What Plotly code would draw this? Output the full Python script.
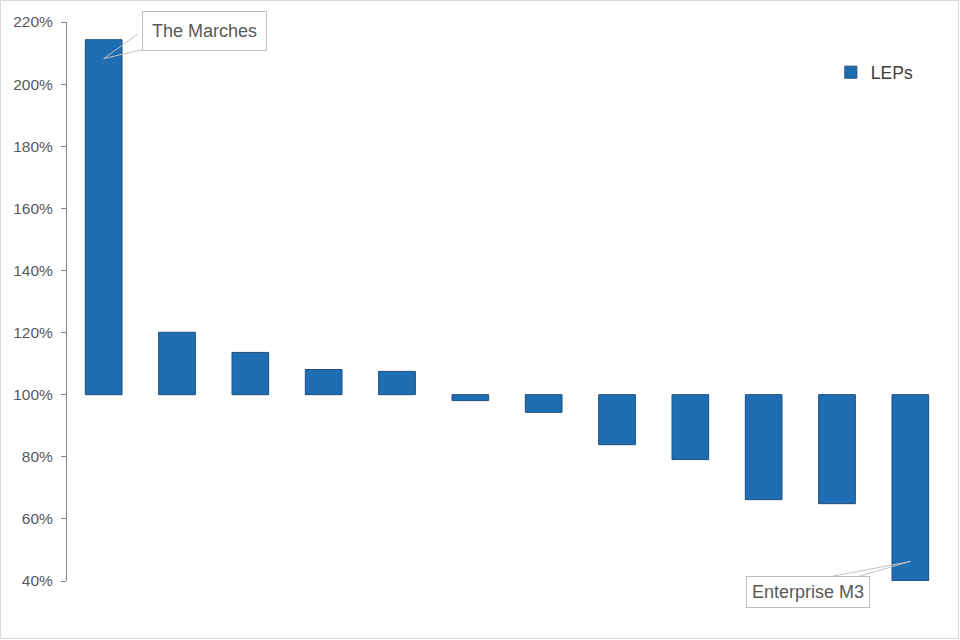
import plotly.graph_objects as go

categories = ["The Marches", "LEP 2", "LEP 3", "LEP 4", "LEP 5", "LEP 6",
              "LEP 7", "LEP 8", "LEP 9", "LEP 10", "LEP 11", "Enterprise M3"]
values = [214.3, 120.1, 113.6, 108.1, 107.5, 98.1, 94.3, 83.9, 79.1, 66.2, 64.9, 40.0]
baseline = 100
series_name = "LEPs"
tick_vals = [40, 60, 80, 100, 120, 140, 160, 180, 200, 220]
tick_text = [f"{v}%" for v in tick_vals]

W, H = 960, 640
ML, MR, MT, MB = 67, 13, 22, 59
PW, PH = W - ML - MR, H - MT - MB

fig = go.Figure()
fig.add_trace(go.Bar(
    x=categories,
    y=[v - baseline for v in values],
    base=baseline,
    name=series_name,
    marker=dict(color="#1F6EB4", line=dict(color="#1D4F7C", width=1)),
    showlegend=True,
))

ann_font = dict(family="Liberation Sans, Arial, sans-serif", size=18, color="#595959")
callout_col = "#BFBFBF"

# callout pointers (wedge edges)
for cat, yv, offs in [(categories[0], 208.2, [(36, -26), (43, -10)]),
                      (categories[-1], 46.3, [(-89, 17), (-59, 17)])]:
    for ax, ay in offs:
        fig.add_annotation(x=cat, y=yv, xref="x", yref="y", text="",
                           showarrow=True, arrowhead=0, arrowcolor=callout_col,
                           arrowwidth=1, ax=ax, ay=ay)

fig.add_annotation(x=categories[0], y=208.2, xref="x", yref="y",
                   text="The Marches", showarrow=True, arrowhead=0,
                   arrowcolor="rgba(0,0,0,0)", arrowwidth=1, ax=101, ay=-28,
                   bgcolor="white", bordercolor=callout_col, borderwidth=1, borderpad=9,
                   font=ann_font)
fig.add_annotation(x=categories[-1], y=46.3, xref="x", yref="y",
                   text="Enterprise M3", showarrow=True, arrowhead=0,
                   arrowcolor="rgba(0,0,0,0)", arrowwidth=1, ax=-102, ay=31,
                   bgcolor="white", bordercolor=callout_col, borderwidth=1, borderpad=5,
                   font=ann_font)

fig.add_shape(type="rect", xref="paper", yref="paper",
              x0=(0.5 - ML) / PW, x1=(W - 1.5 - ML) / PW,
              y0=(MT + PH - (H - 1.5)) / PH, y1=(MT + PH - 0.5) / PH,
              line=dict(color="#D9D9D9", width=1), fillcolor="rgba(0,0,0,0)",
              layer="below")

fig.update_layout(
    width=W, height=H,
    margin=dict(l=ML, r=MR, t=MT, b=MB, pad=0),
    paper_bgcolor="white", plot_bgcolor="white",
    bargap=0.5,
    font=dict(family="Liberation Sans, Arial, sans-serif", color="#595959"),
    legend=dict(x=0.868, y=0.91, xanchor="left", yanchor="middle",
                font=dict(size=17.5, color="#404040"), bgcolor="rgba(0,0,0,0)"),
    xaxis=dict(showticklabels=False, showgrid=False, zeroline=False, showline=False,
               ticks=""),
    yaxis=dict(range=[40, 220], tickvals=tick_vals, ticktext=tick_text,
               showgrid=False, zeroline=False, showline=True, linecolor="#868686",
               linewidth=1, ticks="outside", ticklen=5, tickcolor="#868686",
               ticklabelstandoff=5,
               tickfont=dict(size=15.5, color="#595959")),
)

fig.write_html("out.html", config={"displayModeBar": False},
               post_script="document.body.style.margin='0';document.body.style.overflow='hidden';")
